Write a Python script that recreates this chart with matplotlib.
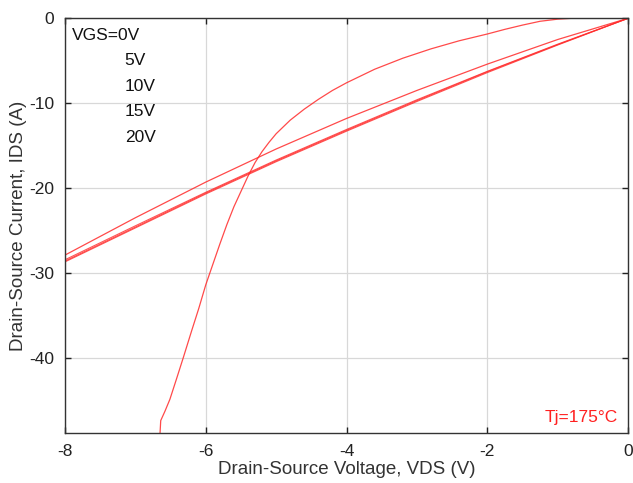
import matplotlib
matplotlib.use("Agg")
import matplotlib.pyplot as plt
import numpy as np

plt.rcParams['font.family'] = ['Liberation Sans', 'DejaVu Sans']
plt.rcParams['axes.unicode_minus'] = False

# VGS = 0V: body diode conduction
vds_0v = [0, -0.8, -1.0, -1.25, -1.5, -1.75, -2.0, -2.4, -2.8, -3.2, -3.6, -4.0,
          -4.2, -4.4, -4.6, -4.8, -5.0, -5.1, -5.2, -5.3, -5.4, -5.5, -5.6,
          -5.7, -5.8, -5.9, -6.0, -6.1, -6.2, -6.32, -6.42, -6.51, -6.58,
          -6.64, -6.65]
ids_0v = [0, 0, -0.1, -0.35, -0.8, -1.3, -1.85, -2.65, -3.6, -4.7, -6.0, -7.6,
          -8.5, -9.55, -10.7, -12.0, -13.6, -14.6, -15.7, -17.0, -18.6, -20.4, -22.2,
          -24.3, -26.6, -29.0, -31.4, -34.2, -36.8, -40.0, -42.6, -44.9, -46.3,
          -47.4, -48.9]

# VGS = 5V .. 20V: channel conduction (nearly linear)
vds_on = [0, -1, -2, -3, -4, -5, -6, -7, -8]
ids_5v = [0, -2.5, -5.4, -8.5, -11.8, -15.4, -19.3, -23.5, -27.9]
ids_10v = [0, -3.05, -6.25, -9.6, -13.1, -16.7, -20.5, -24.45, -28.45]
ids_15v = [0, -3.1, -6.3, -9.7, -13.2, -16.8, -20.6, -24.6, -28.6]
ids_20v = [0, -3.15, -6.4, -9.8, -13.3, -16.9, -20.7, -24.7, -28.7]

vgs_labels = ['VGS=0V', '5V', '10V', '15V', '20V']

fig = plt.figure(figsize=(6.33, 4.83), dpi=100)
ax = fig.add_axes([0.1027, 0.1029, 0.8895, 0.8592])

red = '#ff2a2a'
ax.plot(vds_0v, ids_0v, color=red, lw=0.9, alpha=0.85)
ax.plot(vds_on, ids_5v, color=red, lw=0.9, alpha=0.85)
for ids in (ids_10v, ids_15v, ids_20v):
    ax.plot(vds_on, ids, color=red, lw=0.8, alpha=0.8)

ax.set_xlim(-8, 0)
ax.set_ylim(-48.9, 0)
ax.set_xticks([-8, -6, -4, -2, 0])
ax.set_yticks([-40, -30, -20, -10, 0])
ax.grid(True, color='#d8d8d8', lw=0.9)
ax.tick_params(direction='in', top=True, right=True, labelsize=12.5,
               length=4, width=1, colors='#222222', pad=8)
for sp in ax.spines.values():
    sp.set_color('#333333')
    sp.set_linewidth(1.0)

ax.set_xlabel('Drain-Source Voltage, VDS (V)', fontsize=13.5, color='#333333', labelpad=1)
ax.set_ylabel('Drain-Source Current, IDS (A)', fontsize=13.5, color='#333333', labelpad=1)

# gate voltage key in the upper-left corner
ax.text(0.012, 0.958, vgs_labels[0], transform=ax.transAxes, fontsize=12.5,
        va='center', ha='left', color='#111111')
for i, lab in enumerate(vgs_labels[1:]):
    ax.text(0.106, 0.898 - i * 0.0615, lab, transform=ax.transAxes, fontsize=12.5,
            va='center', ha='left', color='#111111')

ax.text(-0.14, -47.0, 'Tj=175°C', color='#ff2020', fontsize=12.5, ha='right', va='center')

fig.savefig('out.png', dpi=100)
